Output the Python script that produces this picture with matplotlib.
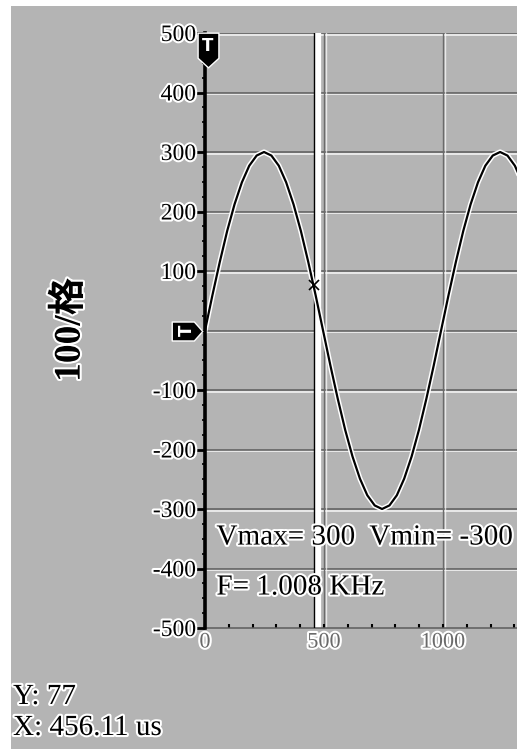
# Oscilloscope screen capture: sine trace with cursor readout
import numpy as np
import matplotlib.pyplot as plt
import matplotlib.patheffects as pe
from matplotlib.path import Path
from matplotlib.patches import Rectangle
from matplotlib.transforms import ScaledTranslation

# trace samples (us, volts-ish units)
sample_step_us = 31
volts = [0, 59, 115, 167, 212, 249, 277, 294, 300, 294, 277, 249, 212, 167, 115, 59,
         0, -59, -115, -167, -212, -249, -277, -294, -300, -294, -277, -249, -212, -167, -115, -59,
         0, 59, 115, 167, 212, 249, 277, 294, 300, 294, 277, 249]
time_us = np.arange(len(volts)) * sample_step_us

y_ticks = [-500, -400, -300, -200, -100, 0, 100, 200, 300, 400, 500]
y_ticklabels = ["-500", "-400", "-300", "-200", "-100", "", "100", "200", "300", "400", "500"]
x_ticks = [0, 500, 1000]

cursor_x = 456.11
cursor_y = 77
v_max, v_min = 300, -300
freq_khz = 1.008
scale_label = "100/格"

bg = "#b4b4b4"
serif = ["Liberation Serif", "Noto Sans CJK SC"]
halo = [pe.withStroke(linewidth=3, foreground="white")]

fig = plt.figure(figsize=(5.17, 7.53), dpi=100)
fig.patch.set_facecolor("white")
fig.patches.append(Rectangle((11 / 517, 4 / 753), 1, 743 / 753, transform=fig.transFigure,
                             facecolor=bg, edgecolor="none", zorder=-5))

ax = fig.add_axes([205 / 517, 1 - 628 / 753, 312 / 517, 595 / 753])
ax.set_facecolor(bg)
ax.set_xlim(0, 1311)
ax.set_ylim(-500, 500)

# etched grid
grid_fx = [pe.SimpleLineShadow(offset=(0, -1.2), shadow_color="white", alpha=0.9), pe.Normal()]
for yv in y_ticks[1:]:
    ax.axhline(yv, color="#5c5c5c", lw=1.1, zorder=1, path_effects=grid_fx)
for xv in x_ticks[1:]:
    ax.axvline(xv, color="#6a6a6a", lw=1.0, zorder=1,
               path_effects=[pe.SimpleLineShadow(offset=(1.2, 0), shadow_color="white", alpha=0.7), pe.Normal()])

# cursor line with its white band
band = ax.transData + ScaledTranslation(4 / 100, 0, fig.dpi_scale_trans)
ax.plot([cursor_x, cursor_x], [-500, 500], color="white", lw=4.5, zorder=2, transform=band)
ax.axvline(cursor_x, color="black", lw=1.0, zorder=3)

# the trace
ax.plot(time_us, volts, color="black", lw=1.6, zorder=4,
        path_effects=[pe.withStroke(linewidth=3.8, foreground="white")])
ax.plot(cursor_x, cursor_y, marker="x", color="black", ms=7, mew=1.2, zorder=5)

# axes styling
for side in ["top", "right"]:
    ax.spines[side].set_visible(False)
ax.spines["left"].set_linewidth(2.6)
ax.spines["left"].set_color("black")
ax.spines["left"].set_zorder(6)
ax.spines["bottom"].set_color("#5c5c5c")
ax.spines["bottom"].set_linewidth(1.1)

ax.set_yticks(y_ticks)
ax.set_yticklabels(y_ticklabels)
ax.set_yticks(np.arange(-500, 501, 25), minor=True)
ax.tick_params(axis="y", which="major", direction="out", length=6.5, width=2, pad=0,
               labelsize=17, labelfontfamily="Liberation Serif")
ax.tick_params(axis="y", which="minor", direction="out", length=2.2, width=1.2)
ax.set_xticks(x_ticks)
ax.set_xticks(np.arange(0, 1311, 100), minor=True)
ax.tick_params(axis="x", which="both", direction="in", length=3, width=1.5, pad=4,
               labelsize=16, labelcolor="#6a6a6a", labelfontfamily="Liberation Serif")
for lbl in ax.get_yticklabels() + ax.get_xticklabels():
    lbl.set_path_effects(halo)

# top "T" marker and trigger marker
shield = Path([(-0.6, 1), (0.6, 1), (0.6, -0.45), (0, -1), (-0.6, -0.45), (-0.6, 1)],
              [Path.MOVETO] + [Path.LINETO] * 4 + [Path.CLOSEPOLY])
top_tr = ax.transData + ScaledTranslation(3 / 100, 0, fig.dpi_scale_trans)
ax.plot(0, 472, marker=shield, ms=25, color="black", mec="white", mew=1, clip_on=False,
        zorder=7, transform=top_tr)
ax.text(0, 478, "T", color="white", fontsize=12, fontweight="bold", ha="center", va="center",
        family="DejaVu Sans", transform=top_tr, zorder=8, clip_on=False)

arrow = Path([(-1, -0.62), (0.45, -0.62), (1, 0), (0.45, 0.62), (-1, 0.62), (-1, -0.62)],
             [Path.MOVETO] + [Path.LINETO] * 4 + [Path.CLOSEPOLY])
trig_tr = ax.transData + ScaledTranslation(-18 / 100, 0, fig.dpi_scale_trans)
ax.plot(0, 0, marker=arrow, ms=22, color="black", mec="white", mew=1, clip_on=False,
        zorder=7, transform=trig_tr)
ax.text(0, 0, "T", color="white", fontsize=12, fontweight="bold", rotation=90, ha="center",
        va="center", family="DejaVu Sans", transform=trig_tr, zorder=8, clip_on=False)

# readouts on the screen
ax.text(48, -348, f"Vmax= {v_max}  Vmin= {v_min}", fontsize=21, family=serif,
        va="center", zorder=9, path_effects=halo)
ax.text(48, -432, f"F= {freq_khz:.3f} KHz", fontsize=21, family=serif,
        va="center", zorder=9, path_effects=halo)

fig.text(70 / 517, 1 - 330 / 753, scale_label, rotation=90, fontsize=27, fontweight="bold",
         family=serif, ha="center", va="center", path_effects=halo)
fig.text(13 / 517, 1 - 697 / 753, f"Y: {cursor_y}", fontsize=21, family=serif,
         va="center", path_effects=halo)
fig.text(13 / 517, 1 - 728 / 753, f"X: {cursor_x:.2f} us", fontsize=21, family=serif,
         va="center", path_effects=halo)

fig.savefig("out.png", dpi=100)
